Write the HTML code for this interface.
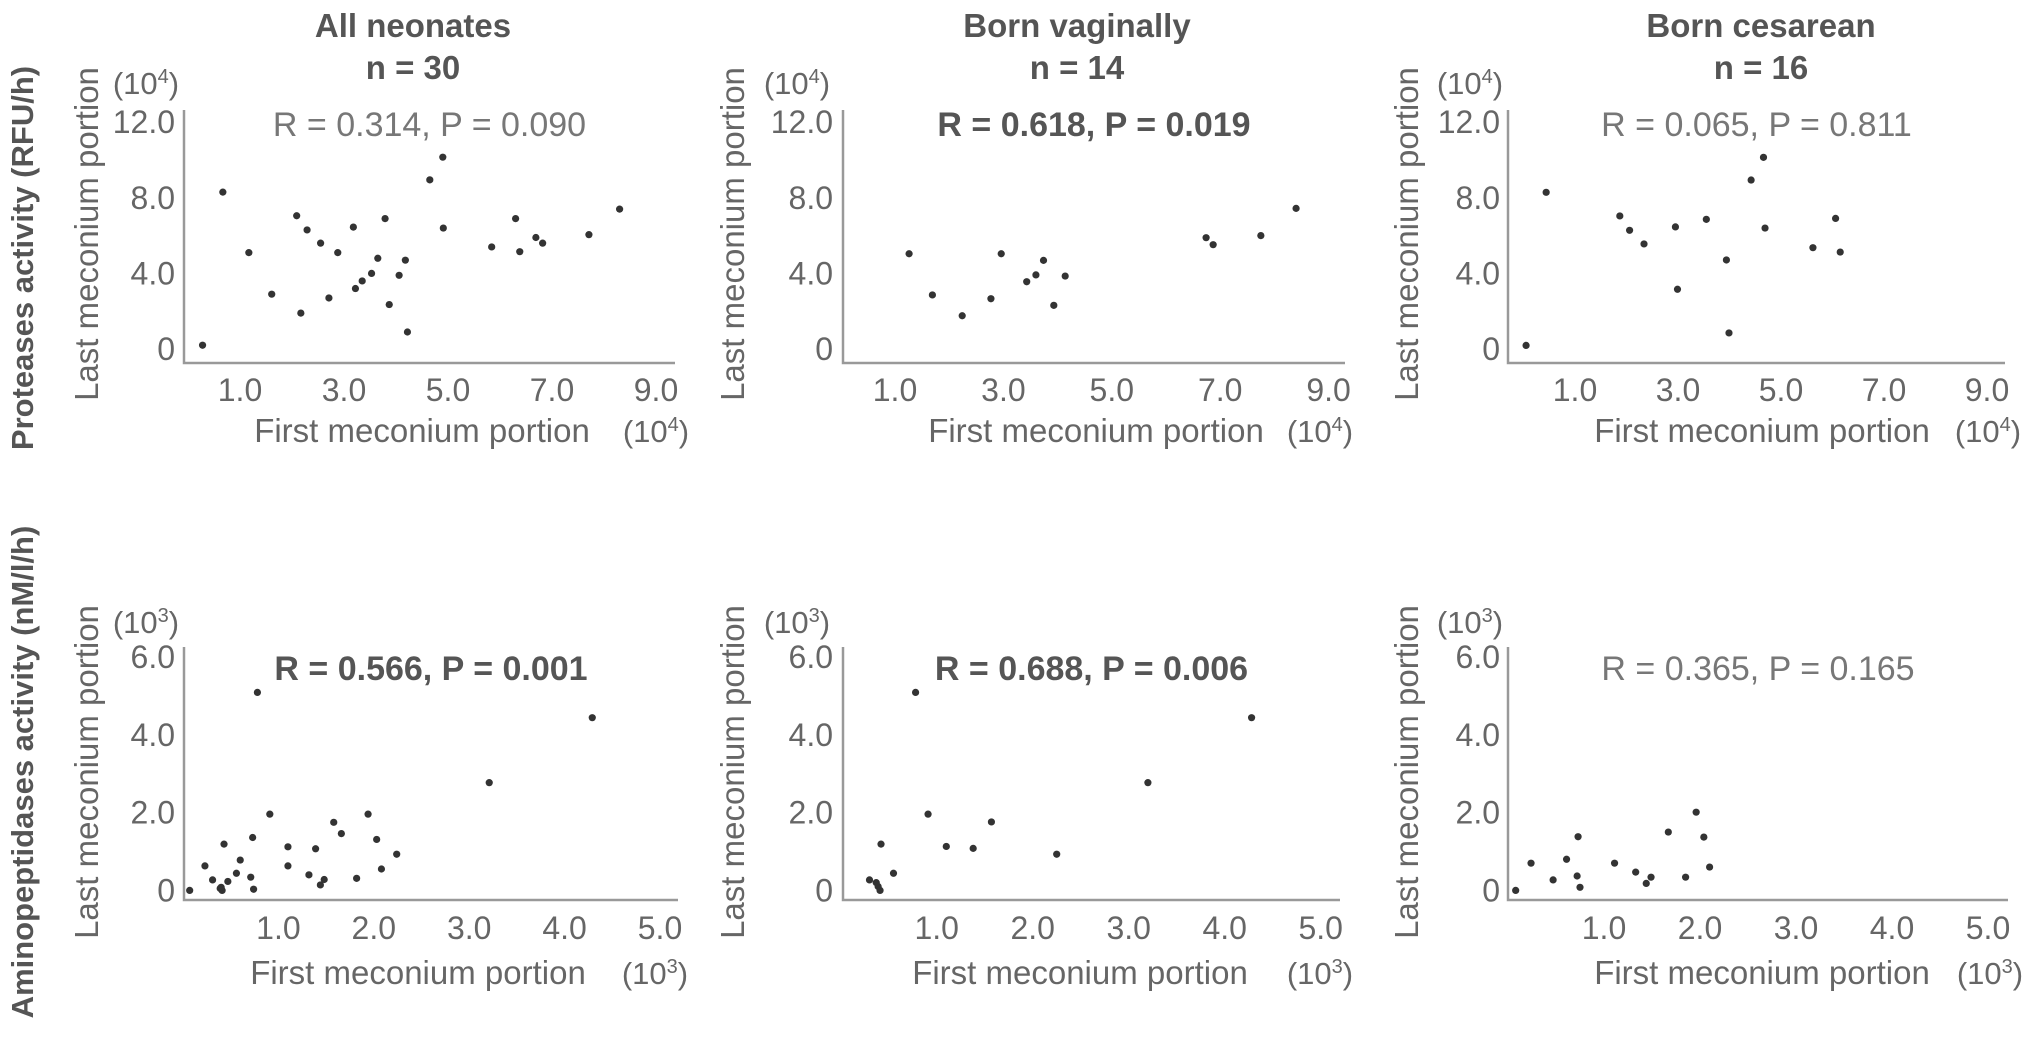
<!DOCTYPE html>
<html><head><meta charset="utf-8"><style>
html,body{margin:0;padding:0;background:#fff;}
svg{display:block;font-family:"Liberation Sans",sans-serif;}
</style></head><body>
<svg id="fig" width="2031" height="1055" viewBox="0 0 2031 1055" xmlns="http://www.w3.org/2000/svg">
<text transform="translate(33,258) rotate(-90)" text-anchor="middle" font-size="31" font-weight="bold" fill="#555">Proteases activity (RFU/h)</text>
<text transform="translate(33,772) rotate(-90)" text-anchor="middle" font-size="31" font-weight="bold" fill="#555">Aminopeptidases activity (nM/l/h)</text>
<g font-size="33" font-weight="bold" fill="#555" text-anchor="middle">
<text x="413" y="37">All neonates</text><text x="413" y="79">n = 30</text></g>
<g font-size="33" font-weight="bold" fill="#555" text-anchor="middle">
<text x="1077" y="37">Born vaginally</text><text x="1077" y="79">n = 14</text></g>
<g font-size="33" font-weight="bold" fill="#555" text-anchor="middle">
<text x="1761" y="37">Born cesarean</text><text x="1761" y="79">n = 16</text></g>
</svg>
<script>
// Data arrays (x = first meconium portion, y = last meconium portion)
const allProtX = [0.28,0.67,1.17,1.61,2.09,2.17,2.29,2.55,2.71,2.88,3.18,3.22,3.35,3.53,3.65,3.79,3.87,4.06,4.18,4.22,4.65,4.9,4.91,5.84,6.3,6.38,6.69,6.82,7.71,8.3];
const allProtY = [0.2,8.3,5.1,2.9,7.05,1.9,6.3,5.6,2.7,5.1,6.45,3.2,3.6,4.0,4.8,6.9,2.35,3.9,4.7,0.9,8.95,10.15,6.4,5.4,6.9,5.15,5.9,5.6,6.05,7.4];
const vagProtX = [1.26,1.69,2.24,2.77,2.96,3.43,3.6,3.74,3.93,4.14,6.74,6.87,7.75,8.4];
const vagProtY = [5.04,2.86,1.76,2.66,5.04,3.56,3.92,4.69,2.31,3.86,5.89,5.52,6.0,7.44];
const cesProtX = [0.05,0.44,1.87,2.06,2.34,2.95,2.99,3.55,3.94,3.99,4.42,4.66,4.69,5.62,6.06,6.15];
const cesProtY = [0.19,8.29,7.04,6.28,5.56,6.46,3.16,6.86,4.71,0.85,8.94,10.14,6.4,5.36,6.91,5.13];
const allAmX = [0.07,0.23,0.31,0.39,0.41,0.43,0.47,0.56,0.6,0.71,0.73,0.74,0.78,0.91,1.1,1.1,1.32,1.39,1.44,1.48,1.58,1.66,1.82,1.94,2.03,2.08,2.24,3.21,4.29,0.4];
const allAmY = [0.0,0.63,0.27,0.05,0.0,1.19,0.23,0.44,0.78,0.34,1.36,0.03,5.09,1.96,1.12,0.63,0.4,1.07,0.14,0.28,1.75,1.46,0.31,1.96,1.31,0.55,0.93,2.77,4.44,0.08];
const vagAmX = [0.3,0.39,0.41,0.42,0.55,0.78,0.91,1.1,1.38,1.57,2.25,3.2,4.28,0.37];
const vagAmY = [0.27,0.1,0.0,1.19,0.44,5.09,1.96,1.13,1.08,1.76,0.93,2.77,4.44,0.2];
const cesAmX = [0.08,0.24,0.47,0.61,0.72,0.73,0.75,1.11,1.33,1.44,1.49,1.67,1.85,1.96,2.04,2.1];
const cesAmY = [0.0,0.7,0.27,0.8,0.37,1.38,0.08,0.7,0.47,0.18,0.34,1.5,0.34,2.01,1.37,0.6];
const protXTicks = [1.0,3.0,5.0,7.0,9.0];
const protYTicks = [0,4.0,8.0,12.0];
const amXTicks = [1.0,2.0,3.0,4.0,5.0];
const amYTicks = [0,2.0,4.0,6.0];
const statLabels = ["R = 0.314, P = 0.090","R = 0.618, P = 0.019","R = 0.065, P = 0.811","R = 0.566, P = 0.001","R = 0.688, P = 0.006","R = 0.365, P = 0.165"];
const statBold = [false,true,false,true,true,false];

const NS="http://www.w3.org/2000/svg";
const svg=document.getElementById('fig');
function mk(tag,attrs,parent){const e=document.createElementNS(NS,tag);for(const k in attrs)e.setAttribute(k,attrs[k]);(parent||svg).appendChild(e);return e;}

function panel(p){
  const g=mk('g',{});
  
  
  const sx=v=>p.x0+p.kx*v, sy=v=>p.y0-p.ky*v;
  const ax=mk('path',{d:`M${p.axL} ${p.axTop} V${p.axY} H${p.axR}`,fill:'none',stroke:'#999','stroke-width':2.5},g);
  
  
  p.xt.forEach(v=>{const t=mk('text',{x:sx(v),y:p.xtY,'text-anchor':'middle','font-size':32,fill:'#666'},g);t.textContent=v.toFixed(1);
    
    });
  p.yt.forEach(v=>{const t=mk('text',{x:p.ytR,y:sy(v)+11,'text-anchor':'end','font-size':32,fill:'#666'},g);t.textContent=v===0?'0':v.toFixed(1);
    
    });
  const yl=mk('text',{transform:`translate(${p.ylX},${p.ylY}) rotate(-90)`,'text-anchor':'middle','font-size':33,fill:'#666'},g);yl.textContent='Last meconium portion';
  
  
  const xl=mk('text',{x:p.xlX,y:p.xlY,'text-anchor':'middle','font-size':33,fill:'#666'},g);xl.textContent='First meconium portion';
  
  
  const xu=mk('text',{x:p.xuX,y:p.xlY,'text-anchor':'middle','font-size':31,fill:'#666'},g);xu.innerHTML=`(10<tspan dy="-11" font-size="20">${p.exp}</tspan><tspan dy="11">)</tspan>`;
  
  
  const yu=mk('text',{x:p.yuX,y:p.yuY,'text-anchor':'middle','font-size':31,fill:'#666'},g);yu.innerHTML=`(10<tspan dy="-11" font-size="20">${p.exp}</tspan><tspan dy="11">)</tspan>`;
  
  
  const st=mk('text',{x:p.stX,y:p.stY,'text-anchor':'middle','font-size':34,fill:p.bold?'#555':'#777','font-weight':p.bold?'bold':'normal'},g);st.textContent=p.stat;
  
  
  p.X.forEach((v,i)=>{const c=mk('circle',{cx:sx(v),cy:sy(p.Y[i]),r:3.6,fill:'#333'},g);
    
    });
}
const topRow={y0:349,ky:18.9,axTop:110,axY:363,xtY:401,xlY:442,yuY:94,stY:136,yt:protYTicks,xt:protXTicks,exp:'4',ylY:234};
const botRow={y0:890.4,ky:38.9,axTop:647,axY:900,xtY:939,xlY:984,yuY:633,stY:680,yt:amYTicks,xt:amXTicks,exp:'3',ylY:772};
const cols=[
 {axL:184,ytR:175,ylX:98,yuX:146},
 {axL:843,ytR:833,ylX:744,yuX:797},
 {axL:1508,ytR:1500,ylX:1418,yuX:1470}
];
const topX=[{x0:188,kx:52,axR:675,xlX:422,xuX:656},{x0:840.8,kx:54.2,axR:1345,xlX:1096,xuX:1320},{x0:1523.5,kx:51.5,axR:2005,xlX:1762,xuX:1988}];
const botX=[{x0:183,kx:95.4,axR:678,xlX:418,xuX:655},{x0:840.7,kx:96,axR:1340,xlX:1080,xuX:1320},{x0:1508,kx:96,axR:2008,xlX:1762,xuX:1990}];
const tops=[[allProtX,allProtY],[vagProtX,vagProtY],[cesProtX,cesProtY]];
const bots=[[allAmX,allAmY],[vagAmX,vagAmY],[cesAmX,cesAmY]];
const names=['all','vaginal','cesarean'];
for(let i=0;i<3;i++){
  panel(Object.assign({},topRow,cols[i],topX[i],{name:'protease-panel-'+names[i],X:tops[i][0],Y:tops[i][1],stat:statLabels[i],bold:statBold[i],stX:(cols[i].axL+topX[i].axR)/2}));
  panel(Object.assign({},botRow,cols[i],botX[i],{name:'aminopeptidase-panel-'+names[i],X:bots[i][0],Y:bots[i][1],stat:statLabels[i+3],bold:statBold[i+3],stX:(cols[i].axL+botX[i].axR)/2}));
}
</script>
</body></html>
